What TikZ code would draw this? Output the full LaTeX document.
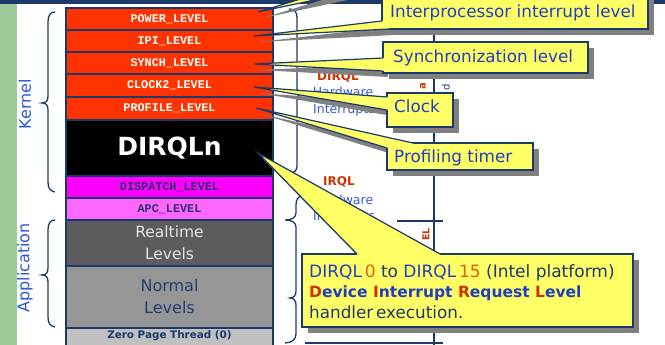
\documentclass[tikz,border=0pt]{standalone}
\usepackage{fontspec}
\setmainfont{DejaVu Sans}
\newfontfamily\monofont{Liberation Mono}
\usetikzlibrary{shadows}

\definecolor{navy}{HTML}{1B3A6B}
\definecolor{lvred}{HTML}{FF3300}
\definecolor{lvmagenta}{HTML}{FF00FF}
\definecolor{lvpink}{HTML}{FF66FF}
\definecolor{lvdark}{HTML}{5C5C5C}
\definecolor{lvmid}{HTML}{969696}
\definecolor{lvlight}{HTML}{C0C0C0}
\definecolor{noteyellow}{HTML}{FFFF66}
\definecolor{shadowgray}{HTML}{808080}
\definecolor{noteblue}{HTML}{1F3FBF}
\definecolor{labelblue}{HTML}{2E55D6}
\definecolor{bgred}{HTML}{CC3300}
\definecolor{bgblue}{HTML}{3A5AD0}
\definecolor{stripgreen}{HTML}{9CCB98}
\definecolor{numorange}{HTML}{E06010}
\definecolor{lvtext}{HTML}{2B2F6F}
\definecolor{normaltext}{HTML}{1F3F6F}

\newcommand\lvlfont{\monofont\bfseries\fontsize{11.8}{12}\selectfont}

\begin{document}
\begin{tikzpicture}[x=1pt,y=-1pt,
  row/.style={draw=navy, line width=1.4pt, minimum width=207pt, inner sep=0pt, outer sep=0pt, anchor=north west},
  redrow/.style={row, fill=lvred, text=white, font=\lvlfont},
  callout/.style={draw=navy, fill=noteyellow, line width=1.4pt, inner sep=0pt, outer sep=0pt, anchor=north west,
    general shadow={fill=shadowgray, shadow xshift=6pt, shadow yshift=-6pt}},
  notetext/.style={anchor=base west, inner sep=0pt, text=noteblue, font=\fontsize{16.8}{19}\selectfont},
  bracepath/.style={draw=navy, line width=1.3pt},
  arm/.style={draw=navy, line width=1.2pt},
  armshadow/.style={fill=shadowgray},
  bgword/.style={inner sep=0pt, font=\fontsize{12.5}{14}\selectfont, text=bgblue},
  bgtitle/.style={inner sep=0pt, font=\bfseries\fontsize{12}{14}\selectfont, text=bgred}
]
\useasboundingbox (0,0) rectangle (665,345);
\clip (0,0) rectangle (665,345);

% header bar and side strip
\fill[navy] (0,0) rectangle (665,4);
\fill[stripgreen] (0,4) rectangle (17,345);

% slide content lying behind the notes
\draw[bracepath] (289,9) .. controls (295,9) and (297,12) .. (297,18) -- (297,88)
  .. controls (297,92) and (299,94) .. (301,94) .. controls (299,94) and (297,96) .. (297,100)
  -- (297,166) .. controls (297,170) and (295,173) .. (289,173);
\draw[bracepath] (301,196) .. controls (298,197) and (296,200) .. (296,205) -- (296,213)
  .. controls (296,218) and (291,220) .. (285,220) .. controls (291,220) and (296,222) .. (296,227)
  -- (296,291) .. controls (296,295) and (294,298) .. (290,298) .. controls (294,298) and (296,301) .. (296,305)
  -- (296,334) .. controls (296,339) and (292,343) .. (285,343);
\coordinate (axisTop) at (434,29);
\coordinate (axisBot) at (434,345);
\coordinate (tickAL) at (397,221);
\coordinate (tickAR) at (443,221);
\coordinate (tickBL) at (305,343);
\coordinate (tickBR) at (443,343);
\draw[navy, line width=1.2pt] (axisTop) -- (axisBot);
\draw[navy, line width=1.2pt] (tickAL) -- (tickAR);
\draw[navy, line width=1.2pt] (tickBL) -- (tickBR);
\node[bgtitle] (dirqlTitle) at (338,77) {DIRQL};
\node[bgword] (hwA) at (343,92) {Hardware};
\node[bgword] (intA) at (344,110) {Interrupts};
\node[bgtitle] (irqlTitle) at (339,182) {IRQL};
\node[bgword] (hwB) at (343,200) {Hardware};
\node[bgword] (intB) at (344,217) {Interrupts};
\node[rotate=90, inner sep=0pt, text=bgred, font=\bfseries\fontsize{10}{12}\selectfont] (vertA) at (423,86) {a};
\node[rotate=90, inner sep=0pt, text=navy, font=\fontsize{10}{12}\selectfont] (vertD) at (446,87) {d};
\node[rotate=90, anchor=east, inner sep=0pt, text=bgred, font=\bfseries\fontsize{9.5}{12}\selectfont] (vertEL) at (426,228) {EL};

% priority levels
\node[redrow, minimum height=22pt] (power) at (66,8) {POWER\_LEVEL};
\node[redrow, minimum height=22pt] (ipi) at (66,30) {IPI\_LEVEL};
\node[redrow, minimum height=22pt] (synch) at (66,52) {SYNCH\_LEVEL};
\node[redrow, minimum height=23pt] (clock) at (66,74) {CLOCK2\_LEVEL};
\node[redrow, minimum height=23pt] (profile) at (66,97) {PROFILE\_LEVEL};
\node[row, fill=black, text=white, minimum height=56pt, font=\bfseries\fontsize{25}{28}\selectfont] (dirqln) at (66,120) {DIRQLn};
\node[row, fill=lvmagenta, text=lvtext, minimum height=22pt, font=\lvlfont] (dispatch) at (66,176) {DISPATCH\_LEVEL};
\node[row, fill=lvpink, text=lvtext, minimum height=22pt, font=\lvlfont] (apc) at (66,198) {APC\_LEVEL};
\node[row, fill=lvdark, text=white!90!black, minimum height=46pt, align=center, font=\fontsize{15.5}{22}\selectfont] (realtime) at (66,220) {Realtime\\Levels};
\node[row, fill=lvmid, text=normaltext, minimum height=62pt, align=center, font=\fontsize{16}{22}\selectfont] (normal) at (66,266) {Normal\\Levels};
\node[row, fill=lvlight, minimum height=22pt] (zero) at (66,328) {};
\node[inner sep=0pt, text=navy, font=\bfseries\fontsize{10.4}{12}\selectfont] (zeroText) at (169.5,336) {Zero Page Thread (0)};

% braces and group names
\draw[bracepath] (55,12) .. controls (50,12) and (48,16) .. (48,22) -- (48,96)
  .. controls (48,101) and (46,103) .. (42,103) .. controls (46,103) and (48,105) .. (48,110)
  -- (48,182) .. controls (48,188) and (50,191) .. (55,192);
\draw[bracepath] (55,220) .. controls (50,220) and (48,224) .. (48,230) -- (48,268)
  .. controls (48,273) and (46,275) .. (42,275) .. controls (46,275) and (48,277) .. (48,282)
  -- (48,317) .. controls (48,323) and (50,326) .. (55,327);
\node[rotate=90, inner sep=0pt, text=labelblue, font=\fontsize{16}{19}\selectfont] (kernel) at (25,104) {Kernel};
\node[rotate=90, inner sep=0pt, text=labelblue, font=\fontsize{16}{19}\selectfont] (application) at (25,268) {Application};

% note arms: tips and base points
\coordinate (tipPower) at (258,12);   \coordinate (pwA) at (330,-10); \coordinate (pwB) at (352,-8);
\coordinate (tipIpi) at (254,36);     \coordinate (ipA) at (382,21);  \coordinate (ipAi) at (386,21);
                                      \coordinate (ipBi) at (389,25); \coordinate (ipB) at (389,29);
\coordinate (tipSynch) at (254,64);   \coordinate (syA) at (383,58);  \coordinate (syAi) at (387,58);
                                      \coordinate (syBi) at (387,71); \coordinate (syB) at (383,71);
\coordinate (tipClock) at (254,87);   \coordinate (ckA) at (387,97);  \coordinate (ckAi) at (391,97);
                                      \coordinate (ckBi) at (391,110); \coordinate (ckB) at (387,110);
\coordinate (tipProfile) at (256,108); \coordinate (prA) at (413,143); \coordinate (prAi) at (413,147);
                                      \coordinate (prBi) at (391,148); \coordinate (prB) at (387,148);
\coordinate (tipDirql) at (258,153);  \coordinate (drA) at (357,254); \coordinate (drAi) at (357,258);
                                      \coordinate (drBi) at (440,258); \coordinate (drB) at (440,254);

% arm shadows
\foreach \t/\a/\b in {tipPower/pwA/pwB, tipIpi/ipA/ipB, tipSynch/syA/syB, tipClock/ckA/ckB, tipProfile/prA/prB, tipDirql/drA/drB}
  \fill[armshadow] ([shift={(5,6)}]\t) -- ([shift={(5,6)}]\a) -- ([shift={(5,6)}]\b) -- cycle;

% note boxes
\node[callout, minimum width=266pt, minimum height=39pt] (noteIpi) at (382,-10) {};
\node[callout, minimum width=205pt, minimum height=31pt] (noteSynch) at (383,42) {};
\node[callout, minimum width=66pt, minimum height=34pt] (noteClock) at (387,93) {};
\node[callout, minimum width=146pt, minimum height=27pt] (noteProfile) at (387,143) {};
\node[callout, minimum width=331pt, minimum height=73pt] (noteDirql) at (302,254) {};

% arms
\fill[noteyellow] (tipPower) -- (pwA) -- (pwB) -- cycle;
\draw[arm] (pwA) -- (tipPower) -- (pwB);
\foreach \t/\a/\ai/\bi/\b in {tipIpi/ipA/ipAi/ipBi/ipB, tipSynch/syA/syAi/syBi/syB, tipClock/ckA/ckAi/ckBi/ckB,
    tipProfile/prA/prAi/prBi/prB, tipDirql/drA/drAi/drBi/drB}{
  \fill[noteyellow] (\t) -- (\a) -- (\ai) -- (\bi) -- (\b) -- cycle;
  \draw[arm] (\a) -- (\t) -- (\b);
}

% note texts
\node[notetext] (txtIpi) at (390,18) {Interprocessor interrupt level};
\node[notetext] (txtSynch) at (393,63) {Synchronization level};
\node[notetext] (txtClock) at (394,113) {Clock};
\node[notetext] (txtProfile) at (394,162) {Profiling timer};
\node[notetext, font=\fontsize{17}{19}\selectfont] (txtDirqlA) at (309,277) {DIRQL\,\textcolor{numorange}{0} \textcolor{navy}{to} DIRQL\,\textcolor{numorange}{15} \textcolor{navy}{(Intel platform)}};
\node[notetext, font=\bfseries\fontsize{15.5}{19}\selectfont] (txtDirqlB) at (309,297)
  {\textcolor{bgred}{D}evice \textcolor{bgred}{I}nterrupt \textcolor{bgred}{R}equest \textcolor{bgred}{L}evel};
\node[notetext, text=navy] (txtDirqlC) at (309,318) {handler\,execution.};
\end{tikzpicture}
\end{document}
